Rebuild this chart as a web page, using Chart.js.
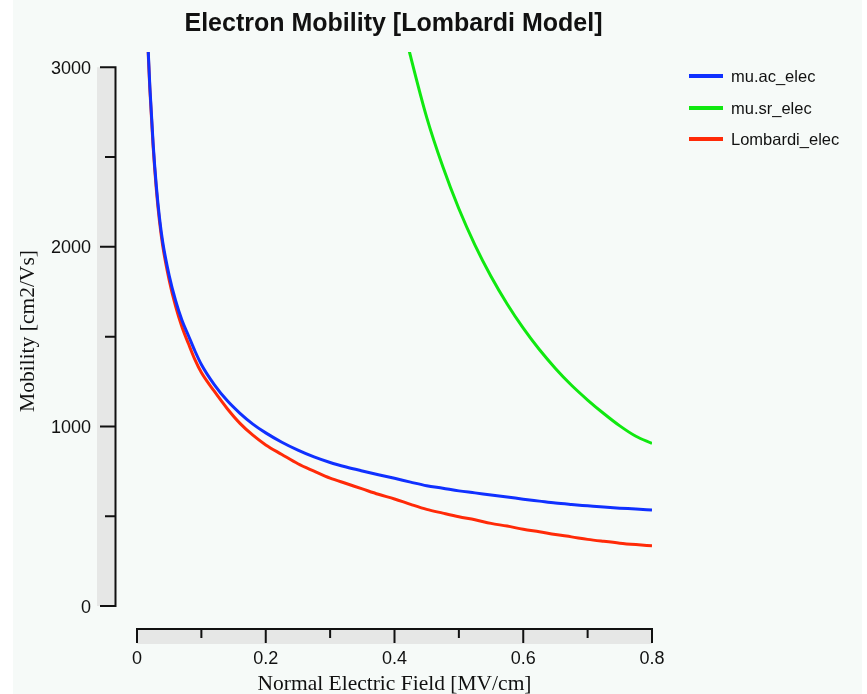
<!DOCTYPE html>
<html>
<head>
<meta charset="utf-8">
<title>Electron Mobility [Lombardi Model]</title>
<script src="https://cdn.jsdelivr.net/npm/chart.js@4.4.1/dist/chart.umd.min.js"></script>
<style>
  html, body { margin: 0; padding: 0; background: #fff; }
  canvas { display: block; }
</style>
</head>
<body>
<canvas id="mobility" width="867" height="694"></canvas>
<script>
// normal electric field [MV/cm]
var field = [0.016, 0.018, 0.020, 0.025, 0.030, 0.035, 0.040, 0.050, 0.060, 0.070,
             0.080, 0.090, 0.100, 0.120, 0.140, 0.160, 0.180, 0.200, 0.225, 0.250,
             0.275, 0.300, 0.325, 0.350, 0.375, 0.400, 0.425, 0.450, 0.475, 0.500,
             0.525, 0.550, 0.575, 0.600, 0.625, 0.650, 0.675, 0.700, 0.725, 0.750,
             0.775, 0.800];

// mobilities [cm2/Vs]
var muAcElec = [3225, 3045, 2890, 2578, 2340, 2160, 2025, 1840, 1700, 1590,
                1505, 1420, 1345, 1233, 1144, 1073, 1013, 964, 912, 868,
                830, 799, 774, 752, 731, 711, 690, 670, 656, 641,
                630, 618, 607, 595, 584, 573, 565, 558, 551, 545,
                540, 534];
var muSrElec = [null, null, null, null, null, null, null, null, null, null,
                null, null, null, null, null, null, null, null, null, null,
                null, null, null, null, null, 3430, 3060, 2721, 2447, 2212,
                2010, 1835, 1682, 1547, 1428, 1323, 1229, 1147, 1072, 1003,
                945, 905];
var lombardiElec = [3205, 3030, 2875, 2562, 2322, 2140, 2005, 1815, 1668, 1552,
                    1460, 1372, 1300, 1196, 1100, 1017, 951, 897, 844, 792,
                    751, 712, 682, 652, 622, 596, 566, 538, 517, 497,
                    480, 460, 445, 427, 413, 398, 385, 371, 360, 350,
                    342, 335];

var yMajor = [0, 1000, 2000, 3000];
var yMinor = [500, 1500, 2500];
var yTickLabels = ['0', '1000', '2000', '3000'];
var xMajor = [0, 0.2, 0.4, 0.6, 0.8];
var xMinor = [0.1, 0.3, 0.5, 0.7];
var xTickLabels = ['0', '0.2', '0.4', '0.6', '0.8'];

function points(values) {
    return field.map(function (e, i) { return { x: e, y: values[i] }; });
}

// detached axes with grey bands, titles and legend
var frame = {
    id: 'frame',
    beforeDraw: function (chart) {
        var c = chart.ctx;
        c.save();
        c.fillStyle = '#ffffff';
        c.fillRect(0, 0, chart.width, chart.height);
        c.fillStyle = '#f6faf8';
        c.fillRect(13, 0, 849, chart.height);
        c.restore();
    },
    afterDraw: function (chart) {
        var c = chart.ctx;
        var xs = chart.scales.x, ys = chart.scales.y;
        var yAxisX = 115.5, xAxisY = 629;
        var yBot = ys.getPixelForValue(yMajor[0]);
        var yTop = ys.getPixelForValue(yMajor[yMajor.length - 1]);
        var xLeft = xs.getPixelForValue(xMajor[0]);
        var xRight = xs.getPixelForValue(xMajor[xMajor.length - 1]);

        c.save();
        c.fillStyle = '#e6e7e6';
        c.fillRect(97, yTop, yAxisX - 97, yBot - yTop);
        c.fillRect(xLeft, xAxisY, xRight - xLeft, 15);

        c.strokeStyle = '#111';
        c.lineWidth = 2;
        c.lineCap = 'square';
        c.beginPath();
        c.moveTo(yAxisX, yTop);
        c.lineTo(yAxisX, yBot);
        yMajor.forEach(function (v) {
            var p = ys.getPixelForValue(v);
            c.moveTo(yAxisX, p); c.lineTo(101, p);
        });
        yMinor.forEach(function (v) {
            var p = ys.getPixelForValue(v);
            c.moveTo(yAxisX, p); c.lineTo(106, p);
        });
        c.moveTo(xLeft, xAxisY);
        c.lineTo(xRight, xAxisY);
        xMajor.forEach(function (v) {
            var p = xs.getPixelForValue(v);
            c.moveTo(p, xAxisY); c.lineTo(p, 642);
        });
        xMinor.forEach(function (v) {
            var p = xs.getPixelForValue(v);
            c.moveTo(p, xAxisY); c.lineTo(p, 637);
        });
        c.stroke();

        c.fillStyle = '#111';
        c.font = '18px "Liberation Sans", Arial, sans-serif';
        c.textAlign = 'right';
        c.textBaseline = 'alphabetic';
        yMajor.forEach(function (v, i) {
            c.fillText(yTickLabels[i], 91, ys.getPixelForValue(v) + 6.5);
        });
        c.textAlign = 'center';
        xMajor.forEach(function (v, i) {
            c.fillText(xTickLabels[i], xs.getPixelForValue(v), 663.5);
        });

        c.font = 'bold 25px "Liberation Sans", Arial, sans-serif';
        c.fillText('Electron Mobility [Lombardi Model]', 393.5, 31);

        c.font = '21.5px "Liberation Serif", "Times New Roman", serif';
        c.fillText('Normal Electric Field [MV/cm]', (xLeft + xRight) / 2, 690);
        c.save();
        c.translate(28.5, 331);
        c.rotate(-Math.PI / 2);
        c.textBaseline = 'middle';
        c.fillText('Mobility [cm2/Vs]', 0, 0);
        c.restore();

        // legend
        c.font = '16.5px "Liberation Sans", Arial, sans-serif';
        c.textAlign = 'left';
        c.textBaseline = 'middle';
        var rows = [76, 108, 139];
        chart.data.datasets.forEach(function (ds, i) {
            c.fillStyle = ds.borderColor;
            c.fillRect(689, rows[i] - 2, 34, 4);
            c.fillStyle = '#111';
            c.fillText(ds.label, 731, rows[i] + 1);
        });
        c.restore();
    }
};

new Chart(document.getElementById('mobility').getContext('2d'), {
    type: 'line',
    data: {
        datasets: [
            {
                label: 'mu.ac_elec',
                data: points(muAcElec),
                borderColor: '#1030ff',
                borderWidth: 3
            },
            {
                label: 'mu.sr_elec',
                data: points(muSrElec),
                borderColor: '#10e810',
                borderWidth: 3
            },
            {
                label: 'Lombardi_elec',
                data: points(lombardiElec),
                borderColor: '#ff2a08',
                borderWidth: 3
            }
        ]
    },
    options: {
        responsive: false,
        devicePixelRatio: 1,
        animation: false,
        layout: {
            padding: { left: 137, right: 215, top: 52, bottom: 88 }
        },
        elements: {
            point: { radius: 0 },
            line: { cubicInterpolationMode: 'monotone', fill: false }
        },
        scales: {
            x: { type: 'linear', min: 0, max: 0.8, display: false },
            y: { type: 'linear', min: 0, max: 3085, display: false }
        },
        plugins: {
            legend: { display: false },
            tooltip: { enabled: false }
        }
    },
    plugins: [frame]
});
</script>
</body>
</html>
